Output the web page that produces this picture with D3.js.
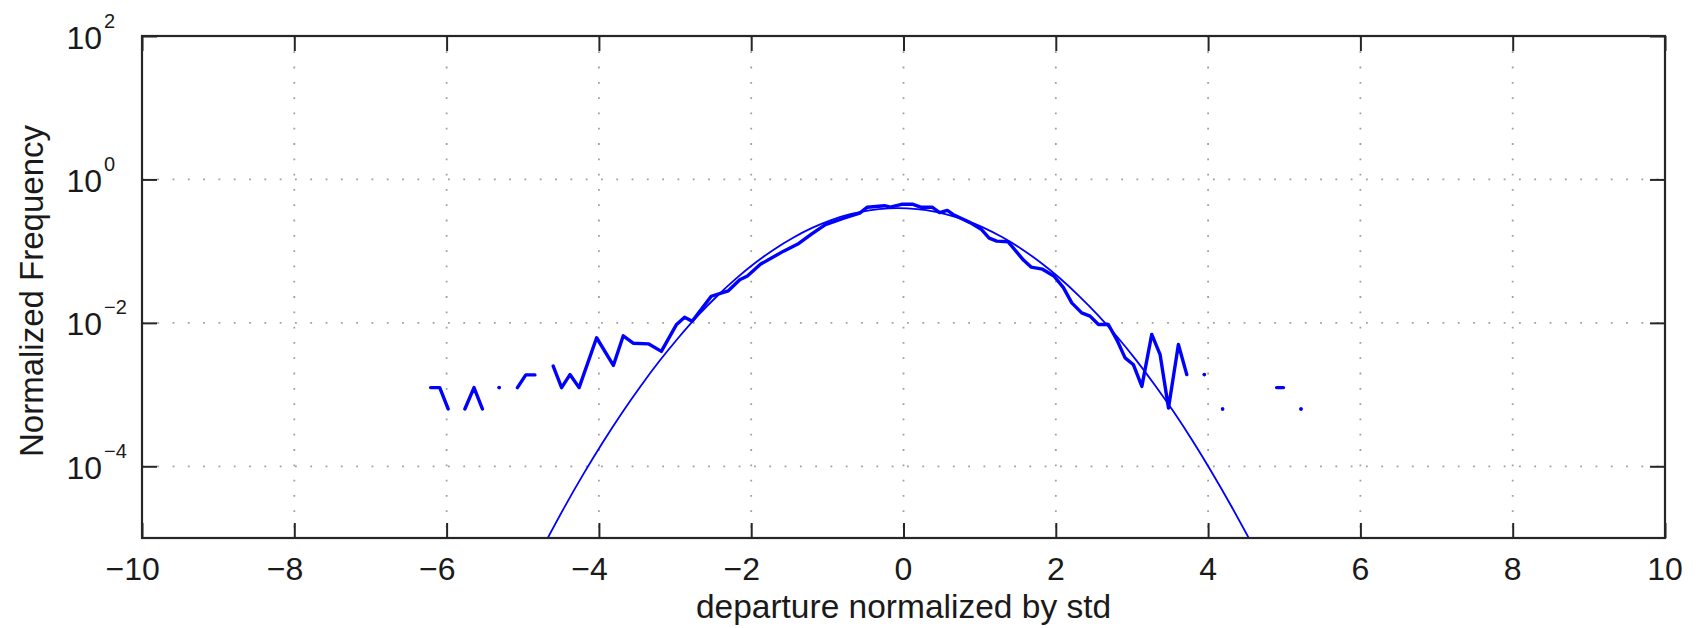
<!DOCTYPE html>
<html><head><meta charset="utf-8">
<script src="https://cdn.jsdelivr.net/npm/d3@7"></script>
<style>
html,body{margin:0;padding:0;background:#fff;}
svg{display:block;font-family:"Liberation Sans",Arial,Helvetica,sans-serif;}
</style></head><body>
<svg id="chart" width="1698" height="628"></svg>
<script>
// ---- tick values / labels ----
const xTicks = [-10,-8,-6,-4,-2,0,2,4,6,8,10];
const xGrid = [-8,-6,-4,-2,0,2,4,6,8];
const yTicks = [1e-4,1e-2,1e0,1e2];
const yTickExponents = ["\u22124","\u22122","0","2"];
const yGrid = [1e-4,1e-2,1e0];
const xLabel = "departure normalized by std";
const yLabel = "Normalized Frequency";

// ---- fitted normal curve ----
const fitX = [-4.70,-4.45,-4.20,-3.95,-3.70,-3.45,-3.20,-2.95,-2.70,-2.45,-2.20,-1.95,-1.70,-1.45,-1.20,-0.95,-0.70,-0.45,-0.20,0.05,0.30,0.55,0.80,1.05,1.30,1.55,1.80,2.05,2.30,2.55,2.80,3.05,3.30,3.55,3.80,4.05,4.30,4.55];
const fitY = [8.8e-6,2.72e-5,7.9e-5,2.15e-4,5.5e-4,1.32e-3,2.98e-3,6.3e-3,1.26e-2,2.35e-2,4.13e-2,6.82e-2,0.1057,0.154,0.2107,0.271,0.327,0.371,0.396,0.396,0.373,0.329,0.273,0.213,0.156,0.1074,6.94e-2,4.22e-2,2.4e-2,1.29e-2,6.5e-3,3.07e-3,1.36e-3,5.7e-4,2.23e-4,8.2e-5,2.84e-5,9.3e-6];

// ---- empirical histogram (null = empty bin -> gap) ----
const histX = [-6.21,-6.09,-5.98,-5.87,-5.76,-5.64,-5.53,-5.42,-5.31,-5.19,-5.07,-4.96,-4.84,-4.72,
  -4.60,-4.49,-4.38,-4.26,-4.03,-3.81,-3.68,-3.55,-3.35,-3.18,-2.98,-2.875,-2.775,-2.525,-2.30,-2.15,-2.05,-1.875,
  -1.575,-1.375,-1.20,-1.025,-0.775,-0.575,-0.475,-0.25,-0.175,-0.025,0.125,0.225,0.375,0.475,0.575,0.65,0.875,
  1.025,1.125,1.225,1.375,1.575,1.675,1.825,1.975,2.10,2.21,2.34,2.45,2.56,2.69,2.80,2.91,3.02,3.13,3.26,3.37,
  3.48,3.61,3.72,3.84,3.95,4.07,4.19,4.30,4.90,4.99,5.10,5.22];
const histY = [1.25e-3,1.25e-3,6.3e-4,null,6.3e-4,1.25e-3,6.3e-4,null,1.25e-3,null,1.25e-3,1.88e-3,1.88e-3,null,
  2.5e-3,1.25e-3,1.9e-3,1.25e-3,6.2e-3,2.55e-3,6.6e-3,5.2e-3,5.1e-3,4.0e-3,9.5e-3,1.2e-2,1.05e-2,2.35e-2,2.8e-2,4.0e-2,4.5e-2,6.6e-2,
  0.1,0.128,0.175,0.235,0.29,0.34,0.41,0.43,0.41,0.45,0.45,0.41,0.41,0.345,0.37,0.325,0.25,
  0.2,0.152,0.138,0.135,0.075,0.06,0.056,0.045,0.031,0.019,0.0138,0.0124,0.0095,0.0095,0.00585,0.00325,0.0026,0.0013,0.0069,0.0036,
  0.00065,0.005,0.0019,null,0.0019,null,0.00063,null,0.00125,0.00125,null,0.00063];

// ---- layout ----
const W = 1698, H = 628;
const L = 142, R = 1665, T = 36, B = 538;
const tickLen = 15;
const blue = "#0000ff";
const axisColor = "#262626";

const svg = d3.select("#chart");
svg.append("rect").attr("width",W).attr("height",H).attr("fill","#fff");

const x = d3.scaleLinear().domain([-10,10]).range([L,R]);
const y = d3.scaleLog().domain([1e-5,1e2]).range([B,T]);

svg.append("clipPath").attr("id","plotclip").append("rect")
  .attr("x",L).attr("y",T).attr("width",R-L).attr("height",B-T);

// grid
const grid = svg.append("g").attr("stroke","#a0a0a0").attr("stroke-width",1.8)
  .attr("stroke-dasharray","1.8,13.5");
grid.selectAll(".gx").data(xGrid).join("line")
  .attr("x1",d=>x(d)).attr("x2",d=>x(d)).attr("y1",T).attr("y2",B);
grid.selectAll(".gy").data(yGrid).join("line")
  .attr("y1",d=>y(d)).attr("y2",d=>y(d)).attr("x1",L).attr("x2",R);

// data
const plot = svg.append("g").attr("clip-path","url(#plotclip)");
const fitData = fitX.map((v,i)=>[v,fitY[i]]);
plot.append("path").datum(fitData)
  .attr("fill","none").attr("stroke",blue).attr("stroke-width",1.8)
  .attr("d", d3.line().curve(d3.curveNatural).x(d=>x(d[0])).y(d=>y(d[1])));

const histData = histX.map((v,i)=>[v,histY[i]]);
plot.append("path").datum(histData)
  .attr("fill","none").attr("stroke",blue).attr("stroke-width",3.4)
  .attr("stroke-linejoin","round").attr("stroke-linecap","round")
  .attr("d", d3.line().defined(d=>d[1]!=null).x(d=>x(d[0])).y(d=>y(d[1])));
const isolated = histData.filter((d,i)=> d[1]!=null &&
  (i===0 || histData[i-1][1]==null) && (i===histData.length-1 || histData[i+1][1]==null));
plot.selectAll(".iso").data(isolated).join("circle")
  .attr("cx",d=>x(d[0])).attr("cy",d=>y(d[1])).attr("r",1.8).attr("fill",blue);

// axes (ticks inward on all four sides)
function styleAxis(g){
  g.select(".domain").remove();
  g.selectAll(".tick line").attr("stroke",axisColor).attr("stroke-width",2);
  g.selectAll(".tick text").remove();
}
svg.append("g").attr("transform",`translate(0,${B})`)
  .call(d3.axisBottom(x).tickValues(xTicks).tickSize(-tickLen)).call(styleAxis);
svg.append("g").attr("transform",`translate(0,${T})`)
  .call(d3.axisTop(x).tickValues(xTicks).tickSize(-tickLen)).call(styleAxis);
svg.append("g").attr("transform",`translate(${L},0)`)
  .call(d3.axisLeft(y).tickValues(yTicks).tickSize(-tickLen)).call(styleAxis);
svg.append("g").attr("transform",`translate(${R},0)`)
  .call(d3.axisRight(y).tickValues(yTicks).tickSize(-tickLen)).call(styleAxis);

// box
svg.append("rect").attr("x",L).attr("y",T).attr("width",R-L).attr("height",B-T)
  .attr("fill","none").attr("stroke",axisColor).attr("stroke-width",2.2);

// x tick labels: digits centred on tick, minus sign hanging to the left
const tickFont = 32;
const meas = svg.append("text").attr("font-size",tickFont).attr("visibility","hidden");
xTicks.forEach(v=>{
  const digits = String(Math.abs(v));
  meas.text(digits);
  const w = meas.node().getComputedTextLength();
  svg.append("text").attr("font-size",tickFont).attr("fill","#1a1a1a")
    .attr("text-anchor","end").attr("x",x(v)+w/2).attr("y",580)
    .text((v<0?"\u2212":"")+digits);
});
meas.remove();

// y tick labels 10^n
yTicks.forEach((v,i)=>{
  const by = y(v)+12.5;
  svg.append("text").attr("font-size",tickFont).attr("fill","#1a1a1a")
    .attr("text-anchor","end").attr("x",102).attr("y",by).text("10");
  svg.append("text").attr("font-size",20).attr("fill","#1a1a1a")
    .attr("text-anchor","start").attr("x",104).attr("y",by-21).text(yTickExponents[i]);
});

// axis titles
svg.append("text").attr("font-size",33.5).attr("fill","#1a1a1a").attr("text-anchor","middle")
  .attr("x",(L+R)/2).attr("y",618).text(xLabel);
svg.append("text").attr("font-size",33).attr("fill","#1a1a1a").attr("text-anchor","middle")
  .attr("transform","translate(43,291) rotate(-90)").text(yLabel);
</script>
</body></html>
